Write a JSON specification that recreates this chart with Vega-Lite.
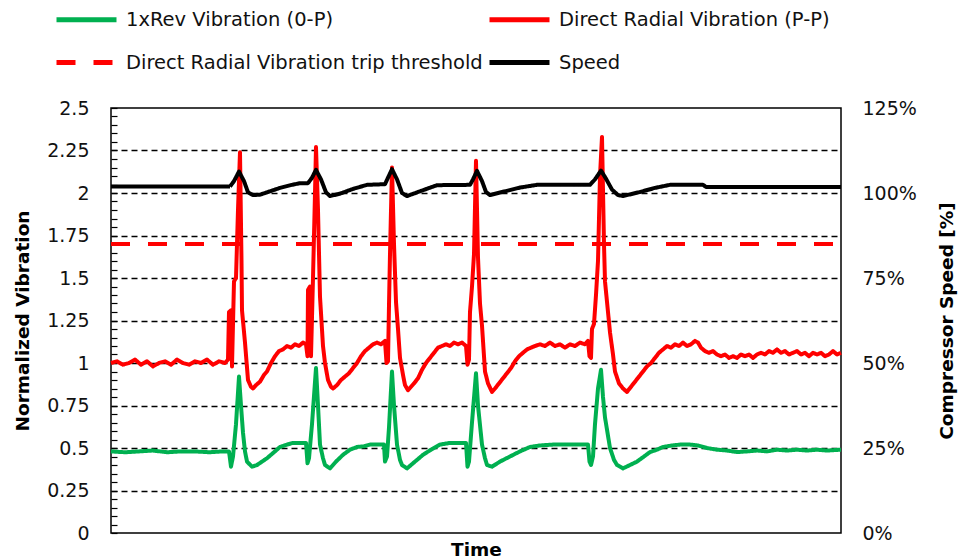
{
  "$schema": "https://vega.github.io/schema/vega-lite/v6.json",
  "width": 730,
  "height": 425,
  "autosize": {"type": "none"},
  "padding": {"left": 111, "top": 108, "right": 119, "bottom": 27},
  "background": "white",
  "config": {
    "view": {"stroke": "#000", "strokeWidth": 1.5},
    "font": "DejaVu Sans",
    "axis": {
      "labelFont": "DejaVu Sans",
      "titleFont": "DejaVu Sans",
      "labelFontSize": 19,
      "titleFontSize": 18.5,
      "labelColor": "#111",
      "titleColor": "#000",
      "titleFontWeight": "bold"
    },
    "legend": {
      "labelFont": "DejaVu Sans",
      "labelFontSize": 19.5,
      "labelColor": "#111",
      "padding": 0,
      "offset": 0
    }
  },
  "datasets": {
    "drv": [
      {"t":0,"v":1.00},{"t":6,"v":1.01},{"t":12,"v":0.99},{"t":18,"v":1.00},{"t":24,"v":1.02},{"t":30,"v":0.99},{"t":36,"v":1.01},{"t":42,"v":0.98},{"t":48,"v":1.00},{"t":54,"v":1.01},{"t":60,"v":0.99},{"t":66,"v":1.02},{"t":72,"v":1.00},{"t":78,"v":0.99},{"t":84,"v":1.01},{"t":90,"v":1.00},{"t":96,"v":1.02},{"t":102,"v":0.99},{"t":108,"v":1.01},{"t":114,"v":1.00},{"t":117,"v":1.02},
      {"t":118,"v":1.30},{"t":120,"v":1.31},{"t":121,"v":0.98},{"t":123,"v":1.48},{"t":125,"v":1.50},{"t":127,"v":1.9},{"t":129,"v":2.24},{"t":130.5,"v":1.6},{"t":131,"v":1.31},{"t":134,"v":1.12},{"t":137,"v":0.90},{"t":140,"v":0.86},{"t":142,"v":0.85},{"t":145,"v":0.87},{"t":149,"v":0.89},{"t":153,"v":0.93},{"t":156,"v":0.95},{"t":160,"v":1.00},{"t":164,"v":1.04},{"t":168,"v":1.07},{"t":172,"v":1.08},{"t":176,"v":1.10},{"t":180,"v":1.09},{"t":184,"v":1.11},{"t":188,"v":1.10},{"t":192,"v":1.12},{"t":195,"v":1.11},
      {"t":196.5,"v":1.04},{"t":197,"v":1.43},{"t":199,"v":1.45},{"t":200,"v":1.04},{"t":202,"v":1.5},{"t":204,"v":2.0},{"t":205,"v":2.27},{"t":207,"v":1.9},{"t":209,"v":1.39},{"t":212,"v":1.1},{"t":214,"v":1.0},{"t":217,"v":0.9},{"t":220,"v":0.86},{"t":222,"v":0.85},{"t":226,"v":0.87},{"t":230,"v":0.90},{"t":234,"v":0.92},{"t":238,"v":0.94},{"t":242,"v":0.97},{"t":246,"v":1.00},{"t":250,"v":1.04},{"t":254,"v":1.07},{"t":258,"v":1.09},{"t":262,"v":1.11},{"t":266,"v":1.12},{"t":270,"v":1.11},{"t":274,"v":1.13},
      {"t":275.5,"v":1.00},{"t":277,"v":1.01},{"t":278,"v":1.34},{"t":279,"v":1.64},{"t":281,"v":2.15},{"t":283,"v":1.7},{"t":285,"v":1.36},{"t":287,"v":1.2},{"t":289,"v":1.03},{"t":292,"v":0.93},{"t":294,"v":0.87},{"t":297,"v":0.84},{"t":300,"v":0.86},{"t":303,"v":0.88},{"t":307,"v":0.91},{"t":311,"v":0.96},{"t":315,"v":1.00},{"t":319,"v":1.03},{"t":323,"v":1.06},{"t":327,"v":1.09},{"t":331,"v":1.10},{"t":335,"v":1.11},{"t":339,"v":1.10},{"t":343,"v":1.12},{"t":347,"v":1.11},{"t":351,"v":1.12},{"t":355,"v":1.10},
      {"t":356.5,"v":0.99},{"t":358,"v":1.02},{"t":359,"v":1.30},{"t":361,"v":1.45},{"t":363,"v":1.64},{"t":365,"v":2.19},{"t":367,"v":1.62},{"t":369,"v":1.35},{"t":371,"v":1.22},{"t":374,"v":0.95},{"t":377,"v":0.88},{"t":381,"v":0.83},{"t":384,"v":0.85},{"t":388,"v":0.88},{"t":392,"v":0.91},{"t":396,"v":0.94},{"t":400,"v":0.97},{"t":404,"v":1.01},{"t":408,"v":1.04},{"t":412,"v":1.06},{"t":416,"v":1.08},{"t":420,"v":1.09},{"t":424,"v":1.10},{"t":429,"v":1.11},{"t":434,"v":1.10},{"t":439,"v":1.12},{"t":444,"v":1.10},{"t":449,"v":1.11},{"t":454,"v":1.09},{"t":459,"v":1.11},{"t":464,"v":1.10},{"t":469,"v":1.12},{"t":474,"v":1.11},{"t":477,"v":1.13},
      {"t":478.5,"v":1.04},{"t":480,"v":1.03},{"t":481,"v":1.20},{"t":483,"v":1.23},{"t":485,"v":1.40},{"t":487,"v":1.6},{"t":489,"v":2.1},{"t":491,"v":2.33},{"t":493,"v":1.7},{"t":494,"v":1.48},{"t":497,"v":1.3},{"t":499,"v":1.18},{"t":502,"v":1.05},{"t":504,"v":0.95},{"t":508,"v":0.88},{"t":512,"v":0.85},{"t":516,"v":0.83},{"t":520,"v":0.86},{"t":524,"v":0.89},{"t":528,"v":0.92},{"t":532,"v":0.95},{"t":536,"v":0.98},{"t":540,"v":1.00},{"t":544,"v":1.03},{"t":548,"v":1.06},{"t":552,"v":1.08},{"t":556,"v":1.10},{"t":560,"v":1.09},{"t":564,"v":1.11},{"t":568,"v":1.10},{"t":572,"v":1.12},{"t":576,"v":1.10},{"t":580,"v":1.11},{"t":584,"v":1.13},{"t":587,"v":1.12},{"t":590,"v":1.09},{"t":594,"v":1.07},{"t":598,"v":1.06},{"t":602,"v":1.07},{"t":606,"v":1.05},{"t":610,"v":1.04},{"t":614,"v":1.05},{"t":618,"v":1.03},{"t":622,"v":1.04},{"t":626,"v":1.03},{"t":630,"v":1.05},{"t":634,"v":1.04},{"t":638,"v":1.05},{"t":642,"v":1.03},{"t":646,"v":1.05},{"t":650,"v":1.06},{"t":654,"v":1.05},{"t":658,"v":1.07},{"t":662,"v":1.06},{"t":666,"v":1.08},{"t":670,"v":1.06},{"t":674,"v":1.07},{"t":678,"v":1.05},{"t":682,"v":1.06},{"t":686,"v":1.07},{"t":690,"v":1.05},{"t":694,"v":1.06},{"t":698,"v":1.04},{"t":702,"v":1.06},{"t":706,"v":1.05},{"t":710,"v":1.06},{"t":714,"v":1.04},{"t":718,"v":1.05},{"t":722,"v":1.07},{"t":726,"v":1.05},{"t":730,"v":1.06}
    ],
    "rev": [
      {"t":0,"v":0.48},{"t":14,"v":0.475},{"t":28,"v":0.48},{"t":42,"v":0.485},{"t":56,"v":0.475},{"t":70,"v":0.48},{"t":84,"v":0.48},{"t":98,"v":0.475},{"t":112,"v":0.48},{"t":118,"v":0.48},
      {"t":120,"v":0.39},{"t":122,"v":0.45},{"t":125,"v":0.64},{"t":128,"v":0.92},{"t":130,"v":0.75},{"t":132,"v":0.59},{"t":134,"v":0.48},{"t":136,"v":0.42},{"t":141,"v":0.39},{"t":146,"v":0.40},{"t":151,"v":0.42},{"t":156,"v":0.44},{"t":162,"v":0.47},{"t":169,"v":0.506},{"t":176,"v":0.52},{"t":182,"v":0.53},{"t":189,"v":0.53},{"t":195,"v":0.53},
      {"t":196.5,"v":0.41},{"t":198,"v":0.44},{"t":201,"v":0.64},{"t":205,"v":0.97},{"t":207,"v":0.75},{"t":209,"v":0.52},{"t":212,"v":0.44},{"t":214,"v":0.40},{"t":219,"v":0.38},{"t":225,"v":0.42},{"t":232,"v":0.46},{"t":239,"v":0.49},{"t":246,"v":0.506},{"t":253,"v":0.51},{"t":259,"v":0.52},{"t":266,"v":0.52},{"t":273,"v":0.52},
      {"t":274,"v":0.42},{"t":276,"v":0.45},{"t":278,"v":0.62},{"t":281,"v":0.95},{"t":283,"v":0.75},{"t":286,"v":0.52},{"t":289,"v":0.43},{"t":291,"v":0.40},{"t":296,"v":0.38},{"t":304,"v":0.42},{"t":312,"v":0.46},{"t":320,"v":0.49},{"t":329,"v":0.52},{"t":339,"v":0.53},{"t":349,"v":0.53},{"t":355,"v":0.53},
      {"t":356.5,"v":0.39},{"t":358,"v":0.42},{"t":361,"v":0.65},{"t":365,"v":0.94},{"t":367,"v":0.75},{"t":371,"v":0.52},{"t":374,"v":0.44},{"t":376,"v":0.40},{"t":381,"v":0.39},{"t":389,"v":0.42},{"t":399,"v":0.45},{"t":409,"v":0.48},{"t":419,"v":0.506},{"t":429,"v":0.515},{"t":442,"v":0.52},{"t":454,"v":0.52},{"t":466,"v":0.52},{"t":477,"v":0.52},
      {"t":478.5,"v":0.42},{"t":480,"v":0.40},{"t":482,"v":0.45},{"t":484,"v":0.64},{"t":487,"v":0.85},{"t":490,"v":0.96},{"t":492,"v":0.80},{"t":494,"v":0.68},{"t":499,"v":0.50},{"t":503,"v":0.43},{"t":506,"v":0.40},{"t":512,"v":0.38},{"t":519,"v":0.40},{"t":526,"v":0.42},{"t":533,"v":0.45},{"t":539,"v":0.476},{"t":546,"v":0.49},{"t":552,"v":0.506},{"t":561,"v":0.515},{"t":569,"v":0.52},{"t":579,"v":0.52},{"t":587,"v":0.515},{"t":596,"v":0.50},{"t":606,"v":0.49},{"t":616,"v":0.485},{"t":626,"v":0.476},{"t":636,"v":0.48},{"t":646,"v":0.485},{"t":656,"v":0.48},{"t":666,"v":0.49},{"t":676,"v":0.485},{"t":686,"v":0.49},{"t":696,"v":0.485},{"t":706,"v":0.49},{"t":716,"v":0.485},{"t":730,"v":0.49}
    ],
    "trip": [
      {"t":0,"v":1.7},{"t":730,"v":1.7}
    ],
    "spd": [
      {"t":0,"v":1.019},{"t":119,"v":1.019},{"t":123,"v":1.035},{"t":128,"v":1.063},{"t":133,"v":1.035},{"t":137,"v":1.002},{"t":142,"v":0.994},{"t":149,"v":0.995},{"t":159,"v":1.005},{"t":169,"v":1.015},{"t":181,"v":1.024},{"t":189,"v":1.029},{"t":197,"v":1.029},
      {"t":201,"v":1.045},{"t":205,"v":1.068},{"t":210,"v":1.040},{"t":215,"v":1.002},{"t":219,"v":0.991},{"t":229,"v":0.998},{"t":242,"v":1.012},{"t":256,"v":1.024},{"t":274,"v":1.026},
      {"t":277,"v":1.045},{"t":281,"v":1.070},{"t":286,"v":1.040},{"t":291,"v":1.000},{"t":296,"v":0.991},{"t":309,"v":1.005},{"t":326,"v":1.023},{"t":359,"v":1.024},
      {"t":362,"v":1.040},{"t":366,"v":1.065},{"t":371,"v":1.035},{"t":375,"v":1.003},{"t":379,"v":0.994},{"t":394,"v":1.005},{"t":409,"v":1.016},{"t":426,"v":1.024},{"t":479,"v":1.024},
      {"t":484,"v":1.040},{"t":490,"v":1.066},{"t":495,"v":1.042},{"t":501,"v":1.010},{"t":507,"v":0.994},{"t":512,"v":0.991},{"t":529,"v":1.003},{"t":544,"v":1.015},{"t":559,"v":1.024},{"t":592,"v":1.024},{"t":595,"v":1.018},{"t":730,"v":1.018}
    ]
  },
  "layer": [
    {
      "layer": [
        {
          "data": {"name": "rev"},
          "mark": {"type": "line", "strokeWidth": 4, "strokeJoin": "round"},
          "encoding": {
            "color": {
              "datum": "1xRev Vibration (0-P)",
              "scale": {
                "domain": ["1xRev Vibration (0-P)", "Direct Radial Vibration trip threshold", "Direct Radial Vibration (P-P)", "Speed"],
                "range": ["#00B050", "#FF0000", "#FF0000", "#000000"]
              },
              "legend": {
                "title": null,
                "orient": "none",
                "legendX": -37,
                "legendY": -101,
                "columns": 2,
                "columnPadding": -4,
                "rowPadding": 20,
                "symbolType": "M-3,0H3",
                "symbolSize": 400,
                "symbolStrokeWidth": 5,
                "labelOffset": 27,
                "labelLimit": 500
              }
            },
            "strokeDash": {
              "datum": "1xRev Vibration (0-P)",
              "scale": {
                "domain": ["1xRev Vibration (0-P)", "Direct Radial Vibration trip threshold", "Direct Radial Vibration (P-P)", "Speed"],
                "range": [[1, 0], [19, 18], [1, 0], [1, 0]]
              },
              "legend": {
                "title": null,
                "orient": "none",
                "legendX": -37,
                "legendY": -101,
                "columns": 2,
                "columnPadding": -4,
                "rowPadding": 20,
                "symbolType": "M-3,0H3",
                "symbolSize": 400,
                "symbolStrokeWidth": 5,
                "labelOffset": 27,
                "labelLimit": 500
              }
            }
          }
        },
        {
          "data": {"name": "drv"},
          "mark": {"type": "line", "strokeWidth": 4, "strokeJoin": "round"},
          "encoding": {
            "color": {"datum": "Direct Radial Vibration (P-P)"},
            "strokeDash": {"datum": "Direct Radial Vibration (P-P)"}
          }
        },
        {
          "data": {"name": "trip"},
          "mark": {"type": "line", "strokeWidth": 4},
          "encoding": {
            "color": {"datum": "Direct Radial Vibration trip threshold"},
            "strokeDash": {"datum": "Direct Radial Vibration trip threshold"}
          }
        }
      ],
      "encoding": {
        "x": {
          "field": "t",
          "type": "quantitative",
          "scale": {"domain": [0, 730], "nice": false, "zero": false},
          "axis": {"title": "Time", "labels": false, "ticks": false, "domain": false, "grid": false, "titlePadding": 7}
        },
        "y": {
          "field": "v",
          "type": "quantitative",
          "scale": {"domain": [0, 2.5], "nice": false},
          "axis": {
            "title": "Normalized Vibration",
            "titlePadding": 14,
            "values": [0,0.05,0.1,0.15,0.2,0.25,0.3,0.35,0.4,0.45,0.5,0.55,0.6,0.65,0.7,0.75,0.8,0.85,0.9,0.95,1,1.05,1.1,1.15,1.2,1.25,1.3,1.35,1.4,1.45,1.5,1.55,1.6,1.65,1.7,1.75,1.8,1.85,1.9,1.95,2,2.05,2.1,2.15,2.2,2.25,2.3,2.35,2.4,2.45,2.5],
            "labelExpr": "abs(datum.value * 4 - round(datum.value * 4)) < 0.001 ? format(datum.value, '~f') : ''",
            "labelOverlap": false,
            "labelFlush": false,
            "labelBound": false,
            "labelPadding": 28,
            "tickSize": -6,
            "tickColor": "#000",
            "tickWidth": 1.2,
            "domain": false,
            "grid": true,
            "gridColor": "#000",
            "gridWidth": 1.6,
            "gridDash": [6, 4],
            "gridOpacity": {
              "condition": {
                "test": "abs(datum.value * 4 - round(datum.value * 4)) < 0.001 && datum.value > 0.01 && datum.value < 2.49",
                "value": 1
              },
              "value": 0
            }
          }
        }
      }
    },
    {
      "data": {"name": "spd"},
      "mark": {"type": "line", "strokeWidth": 4, "strokeJoin": "round"},
      "encoding": {
        "x": {"field": "t", "type": "quantitative"},
        "y": {
          "field": "v",
          "type": "quantitative",
          "scale": {"domain": [0, 1.25], "nice": false},
          "axis": {
            "orient": "right",
            "title": "Compressor Speed [%]",
            "titleAngle": 270,
            "titlePadding": 40,
            "values": [0, 0.25, 0.5, 0.75, 1, 1.25],
            "format": ".0%",
            "ticks": false,
            "domain": false,
            "grid": false,
            "labelPadding": 21,
            "labelFlush": false,
            "labelOverlap": false
          }
        },
        "color": {"datum": "Speed"},
        "strokeDash": {"datum": "Speed"}
      }
    }
  ],
  "resolve": {"scale": {"y": "independent"}}
}
